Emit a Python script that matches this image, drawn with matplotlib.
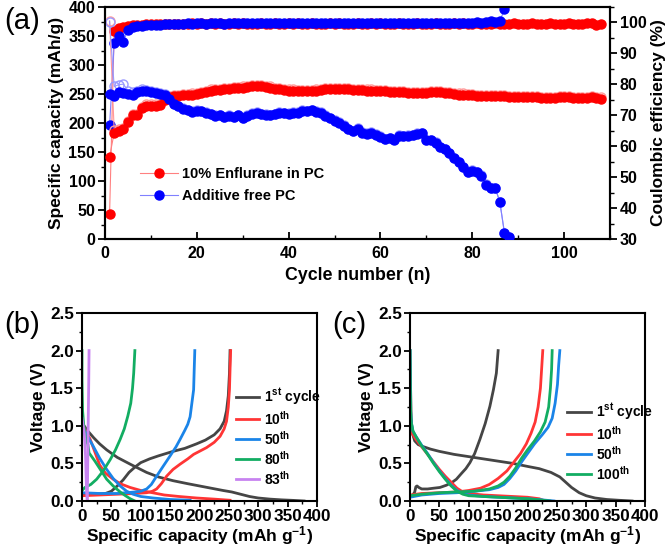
import matplotlib
matplotlib.use("Agg")
import matplotlib.pyplot as plt
from matplotlib.ticker import MultipleLocator
import numpy as np

plt.rcParams['font.family'] = ['Liberation Sans', 'DejaVu Sans']
plt.rcParams['font.weight'] = 'bold'
plt.rcParams['mathtext.fontset'] = 'custom'
plt.rcParams['mathtext.rm'] = 'Liberation Sans:bold'
plt.rcParams['mathtext.bf'] = 'Liberation Sans:bold'
plt.rcParams['mathtext.it'] = 'Liberation Sans:bold'
plt.rcParams['mathtext.default'] = 'bf'

# ---------------- Panel (a) data ----------------
red_charge = [142,183,186,189,202,213,214,226,230,230,
              230,231,240,245,246,247,248,248,249,250,
              252,254,256,257,257,258,259,260,260,261,
              262,263,264,263,262,261,259,258,257,256,
              256,255,255,255,255,256,257,258,259,259,
              259,258,258,257,257,257,256,256,255,255,
              255,254,254,253,253,252,252,252,251,251,
              253,254,253,252,251,250,249,249,248,248,
              247,247,246,246,246,246,246,245,245,245,
              245,244,244,244,243,243,243,243,244,244,
              244,243,243,243,243,244,243,242]
red_discharge = [376,188,190,192,204,215,216,228,232,232,
                 232,233,242,247,248,249,250,250,251,252,
                 254,256,258,259,259,260,261,262,262,263,
                 264,265,266,265,264,263,261,260,259,258,
                 258,257,257,257,257,258,259,260,261,261,
                 261,260,260,259,259,259,258,258,257,257,
                 257,256,256,255,255,254,254,254,253,253,
                 255,256,255,254,253,252,251,251,250,250,
                 249,249,248,248,248,248,248,247,247,247,
                 247,246,246,246,245,245,245,245,246,246,
                 246,245,245,245,245,246,245,244]
red_ce = [38.1,97.3,98.3,98.6,98.9,99.1,99.2,99.3,99.4,99.4,
          99.5,99.4,99.5,99.6,99.5,99.6,99.5,99.6,99.7,99.6,
          99.8,99.6,99.7,99.6,99.7,99.6,99.5,99.7,99.6,99.7,
          99.6,99.5,99.6,99.7,99.5,99.6,99.7,99.6,99.5,99.7,
          99.6,99.7,99.5,99.6,99.7,99.6,99.5,99.6,99.7,99.6,
          99.7,99.6,99.5,99.6,99.7,99.6,99.5,99.7,99.6,99.7,
          99.6,99.5,99.6,99.7,99.6,99.5,99.6,99.7,99.6,99.5,
          99.6,99.7,99.6,99.5,99.6,99.7,99.6,99.7,99.5,99.6,
          99.7,99.6,99.5,99.6,99.7,99.6,99.5,99.6,99.7,99.6,
          99.5,99.6,99.7,99.6,99.5,99.6,99.7,99.6,99.5,99.6,
          99.7,99.6,99.5,99.6,99.7,99.8,99.2,99.5]

blue_charge = [250,246,254,251,250,248,253,256,255,254,
               252,250,248,242,232,229,225,222,219,221,
               220,218,215,212,213,210,212,210,213,208,
               212,216,218,215,214,213,215,218,217,216,
               218,218,221,220,222,219,218,212,208,204,
               200,195,189,186,190,183,181,183,180,176,
               172,174,171,178,177,178,179,181,182,170,
               170,166,158,155,148,139,132,124,115,118,
               115,109,93,88,88,64,11,4]
blue_discharge = [375,263,266,267,256,254,255,258,257,256,
                  254,252,250,244,233,230,226,223,220,222,
                  221,219,216,213,214,211,213,211,214,209,
                  213,217,219,216,215,214,216,219,218,217,
                  219,219,222,221,223,220,219,213,209,205,
                  201,196,190,187,191,184,182,184,181,177,
                  173,175,172,179,178,179,180,182,183,171,
                  171,167,159,156,149,140,133,125,116,119,
                  116,110,94,88,88,64,11,4]
blue_ce = [66.7,93.3,95.5,93.8,97.6,98.4,98.9,99.0,99.1,99.2,
           99.3,99.3,99.4,99.4,99.6,99.5,99.6,99.7,99.6,99.8,
           99.7,99.6,99.7,99.8,99.7,99.6,99.7,99.8,99.7,99.8,
           99.7,99.8,99.7,99.8,99.9,99.8,99.7,99.8,99.7,99.8,
           99.8,99.7,99.8,99.9,99.8,99.7,99.8,99.8,99.7,99.8,
           99.8,99.9,99.8,99.7,99.8,99.8,99.9,99.8,99.7,99.8,
           99.9,99.8,99.8,99.9,99.8,99.9,99.9,99.8,99.8,99.9,
           99.8,99.9,99.8,99.9,99.8,99.9,99.9,99.8,99.9,99.9,
           100.0,99.9,100.2,100.4,100.3,100.4,104.2]

red_cycles = np.arange(1, len(red_charge) + 1)
blue_cycles = np.arange(1, len(blue_charge) + 1)
blue_ce_cycles = np.arange(1, len(blue_ce) + 1)

# ---------------- Panel (b) data (additive free PC) ----------------
b_labels = ['1$^{st}$ cycle', '10$^{th}$', '50$^{th}$', '80$^{th}$', '83$^{th}$']
b_colors = ['#454545', '#ff3535', '#1a84e8', '#12ad62', '#c783f0']
b_dis_cap = [
    [0,10,20,30,42,60,82,110,130,155,180,200,220,240,255,270,285,300,320,340,360,378],
    [0,5,14,22,30,40,53,65,82,100,120,140,165,195,225,252],
    [0,8,19,30,42,53,65,76,87,100,121,150,184],
    [0,0,1,3,6,10,12,22,32,42,53,65,74,82,90],
    [0,2,4,6,7,8,9],
]
b_dis_v = [
    [1.04,0.93,0.84,0.76,0.68,0.58,0.49,0.38,0.32,0.27,0.23,0.20,0.17,0.14,0.12,0.09,0.06,0.04,0.025,0.015,0.008,0.0],
    [1.02,0.95,0.82,0.65,0.48,0.37,0.29,0.23,0.18,0.14,0.11,0.08,0.06,0.04,0.025,0.01],
    [1.02,0.88,0.73,0.57,0.42,0.30,0.20,0.13,0.09,0.06,0.04,0.02,0.01],
    [2.0,1.6,1.2,1.0,0.85,0.75,0.64,0.53,0.41,0.29,0.20,0.12,0.07,0.03,0.0],
    [1.1,1.0,0.9,0.6,0.3,0.1,0.0],
]
b_chg_cap = [
    [0,20,40,50,60,70,80,90,100,115,130,155,175,195,210,225,235,242,246,249,251,252],
    [0,30,60,90,110,120,127,135,144,155,167,180,190,212,225,235,242,246,249,251,252,253],
    [0,30,60,90,100,110,118,127,138,150,160,167,175,180,184,187,190,191,192],
    [0,5,15,25,36,48,57,65,72,78,83,86,88,90],
    [9,9.5,10,10.5,11,11.5,12],
]
b_chg_v = [
    [0.08,0.09,0.10,0.13,0.20,0.28,0.38,0.45,0.51,0.56,0.60,0.66,0.70,0.76,0.81,0.88,0.96,1.06,1.2,1.4,1.7,2.0],
    [0.07,0.08,0.09,0.10,0.11,0.13,0.16,0.23,0.33,0.42,0.49,0.56,0.62,0.71,0.78,0.86,0.96,1.06,1.25,1.48,1.75,2.0],
    [0.11,0.10,0.10,0.12,0.13,0.16,0.22,0.33,0.46,0.60,0.72,0.82,0.94,1.02,1.12,1.3,1.48,1.75,2.0],
    [0.14,0.18,0.22,0.29,0.40,0.55,0.68,0.82,0.96,1.13,1.3,1.5,1.7,2.0],
    [0.0,0.3,0.6,1.0,1.3,1.6,2.0],
]

# ---------------- Panel (c) data (10% Enflurane in PC) ----------------
c_labels = ['1$^{st}$ cycle', '10$^{th}$', '50$^{th}$', '100$^{th}$']
c_colors = ['#454545', '#ff3535', '#1a84e8', '#12ad62']
c_dis_cap = [
    [0,1,2,4,8,14,20,35,50,75,100,125,150,175,200,220,240,255,265,275,288,300,315,335,355,378],
    [0,5,10,20,30,40,50,60,70,80,90,100,125,150,175,200,220,230],
    [0,0.5,1,2,5,10,20,30,40,50,60,70,80,90,100,125,150,175,200,225,245],
    [0,0.5,1,2,5,10,20,30,40,50,60,70,80,90,100,125,150,175,200,220,238],
]
c_dis_v = [
    [2.0,1.5,1.1,0.9,0.8,0.75,0.73,0.69,0.66,0.62,0.59,0.56,0.53,0.50,0.46,0.43,0.38,0.32,0.25,0.18,0.11,0.07,0.04,0.02,0.01,0.0],
    [0.95,0.88,0.82,0.72,0.62,0.52,0.42,0.33,0.25,0.17,0.12,0.10,0.08,0.07,0.06,0.05,0.03,0.0],
    [2.0,1.5,1.2,1.05,0.93,0.86,0.74,0.63,0.51,0.40,0.30,0.21,0.14,0.10,0.08,0.06,0.05,0.04,0.03,0.015,0.0],
    [2.0,1.5,1.2,1.05,0.93,0.86,0.73,0.62,0.50,0.39,0.29,0.20,0.13,0.09,0.07,0.06,0.05,0.04,0.03,0.015,0.0],
]
c_chg_cap = [
    [5,8,10,12,15,20,30,40,51,62,72,79,88,95,102,110,119,128,136,142,147,150],
    [0,20,50,80,100,120,135,150,165,176,188,198,206,213,218,222,224,226],
    [0,20,50,80,110,135,150,160,170,180,190,200,212,225,235,242,247,251,253,255],
    [0,20,50,80,110,135,150,160,170,180,190,200,212,222,230,236,239,241,242],
]
c_chg_v = [
    [0.08,0.12,0.19,0.20,0.18,0.16,0.16,0.17,0.18,0.21,0.25,0.29,0.37,0.43,0.51,0.63,0.82,1.03,1.26,1.48,1.7,2.0],
    [0.08,0.10,0.11,0.12,0.14,0.17,0.22,0.30,0.40,0.51,0.63,0.76,0.90,1.05,1.25,1.5,1.75,2.0],
    [0.05,0.08,0.10,0.11,0.13,0.15,0.18,0.22,0.30,0.40,0.52,0.63,0.76,0.88,0.98,1.1,1.3,1.55,1.8,2.0],
    [0.07,0.09,0.11,0.12,0.13,0.16,0.20,0.25,0.33,0.44,0.57,0.68,0.80,0.92,1.05,1.25,1.5,1.75,2.0],
]

W, H = 665, 546
fig = plt.figure(figsize=(W / 100, H / 100), dpi=100)

def px_axes(left, top, right, bottom):
    return fig.add_axes([left / W, 1 - bottom / H, (right - left) / W, (bottom - top) / H])

TICK_FS = 11.5
LAB_FS = 12.5

def style_spines(ax):
    for s in ax.spines.values():
        s.set_linewidth(1.5)

# ---------------- Panel (a) ----------------
ax = px_axes(105, 7, 610, 239)
style_spines(ax)
ax2 = ax.twinx()

red_col = '#ff0000'
blue_col = '#0000ff'

ax.plot(red_cycles, red_discharge, '-', color='#ff9a9a', lw=0.8, zorder=1)
ax.plot(blue_cycles, blue_discharge, '-', color='#9a9aff', lw=0.8, zorder=1)
ax.plot(red_cycles, red_discharge, 'o', ms=6.5, mfc='none', mec='#ff9a9a', mew=1.0, zorder=2)
ax.plot(blue_cycles, blue_discharge, 'o', ms=6.5, mfc='none', mec='#9a9aff', mew=1.0, zorder=2)
l1, = ax.plot(red_cycles, red_charge, '-o', color='#ff8080', lw=0.8, ms=6.5,
              mfc=red_col, mec=red_col, zorder=3)
l2, = ax.plot(blue_cycles, blue_charge, '-o', color='#8080ff', lw=0.8, ms=6.5,
              mfc=blue_col, mec=blue_col, zorder=4)
ax2.plot(red_cycles, red_ce, '-o', color='#ff8080', lw=0.8, ms=6.5, mfc=red_col, mec=red_col, zorder=3)
ax2.plot(blue_ce_cycles, blue_ce, '-o', color='#8080ff', lw=0.8, ms=6.5, mfc=blue_col, mec=blue_col, zorder=4)

ax.set_xlim(0, 110)
ax.set_ylim(0, 400)
ax2.set_ylim(30, 105)
ax.xaxis.set_major_locator(MultipleLocator(20))
ax.xaxis.set_minor_locator(MultipleLocator(10))
ax.yaxis.set_major_locator(MultipleLocator(50))
ax.yaxis.set_minor_locator(MultipleLocator(25))
ax2.yaxis.set_major_locator(MultipleLocator(10))
ax2.yaxis.set_minor_locator(MultipleLocator(5))
ax.tick_params(axis='y', which='major', direction='out', length=5, width=1.3, labelsize=TICK_FS, pad=2)
ax.tick_params(axis='y', which='minor', direction='out', length=3, width=1.0)
ax.tick_params(axis='x', which='major', direction='in', length=5, width=1.3, labelsize=TICK_FS, pad=5)
ax.tick_params(axis='x', which='minor', direction='in', length=3, width=1.0)
ax2.tick_params(axis='y', which='major', direction='out', length=5, width=1.3, labelsize=TICK_FS, pad=2)
ax2.tick_params(axis='y', which='minor', direction='out', length=3, width=1.0)
for t in ax.get_xticklabels() + ax.get_yticklabels() + ax2.get_yticklabels():
    t.set_fontweight('bold')
ax.set_xlabel('Cycle number (n)', fontsize=LAB_FS + 0.3, fontweight='bold', labelpad=4)
ax.set_ylabel('Specific capacity (mAh/g)', fontsize=LAB_FS, fontweight='bold', labelpad=3)
ax2.set_ylabel('Coulombic efficiency (%)', fontsize=LAB_FS, fontweight='bold', labelpad=3)
for s in ax2.spines.values():
    s.set_linewidth(1.5)
ax.set_zorder(ax2.get_zorder() + 1)
ax.patch.set_visible(False)

leg = ax.legend([l1, l2], ['10% Enflurane in PC', 'Additive free PC'],
                loc='upper left', bbox_to_anchor=(0.055, 0.343), frameon=False,
                prop={'weight': 'bold', 'size': 10.5}, handlelength=2.6,
                handletextpad=0.3, labelspacing=0.55, borderpad=0)

fig.text(4 / W, 1 - 21 / H, '(a)', fontsize=21, fontweight='normal', va='center', ha='left')

# ---------------- Panels (b) and (c) ----------------
def voltage_panel(left, right, dis_cap, dis_v, chg_cap, chg_v, colors, labels, leg_anchor):
    axp = px_axes(left, 313, right, 501)
    style_spines(axp)
    handles = []
    for i in range(len(colors)):
        axp.plot(dis_cap[i], dis_v[i], '-', color=colors[i], lw=2.0)
        h, = axp.plot(chg_cap[i], chg_v[i], '-', color=colors[i], lw=2.0)
        handles.append(h)
    axp.set_xlim(0, 400)
    axp.set_ylim(0, 2.5)
    axp.xaxis.set_major_locator(MultipleLocator(50))
    axp.xaxis.set_minor_locator(MultipleLocator(25))
    axp.yaxis.set_major_locator(MultipleLocator(0.5))
    axp.yaxis.set_minor_locator(MultipleLocator(0.25))
    axp.yaxis.set_major_formatter(plt.FormatStrFormatter('%.1f'))
    axp.tick_params(axis='both', which='major', direction='out', length=4, width=1.3,
                    labelsize=12.3, pad=1.5)
    axp.tick_params(axis='both', which='minor', direction='out', length=2.5, width=1.0)
    for t in axp.get_xticklabels() + axp.get_yticklabels():
        t.set_fontweight('bold')
    axp.set_xlabel('Specific capacity (mAh g$^{-1}$)', fontsize=LAB_FS, fontweight='bold', labelpad=0)
    axp.set_ylabel('Voltage (V)', fontsize=LAB_FS, fontweight='bold', labelpad=3)
    axp.legend(handles, labels, loc='upper left', bbox_to_anchor=leg_anchor, frameon=False,
               prop={'weight': 'bold', 'size': 10}, handlelength=1.7, handletextpad=0.35,
               labelspacing=0.15, borderpad=0)
    return axp

voltage_panel(82, 317, b_dis_cap, b_dis_v, b_chg_cap, b_chg_v, b_colors, b_labels, (0.625, 0.645))
voltage_panel(410, 645, c_dis_cap, c_dis_v, c_chg_cap, c_chg_v, c_colors, c_labels, (0.64, 0.565))

fig.text(4 / W, 1 - 325 / H, '(b)', fontsize=21, fontweight='normal', va='center', ha='left')
fig.text(332 / W, 1 - 325 / H, '(c)', fontsize=21, fontweight='normal', va='center', ha='left')

fig.savefig('out.png', dpi=100)
